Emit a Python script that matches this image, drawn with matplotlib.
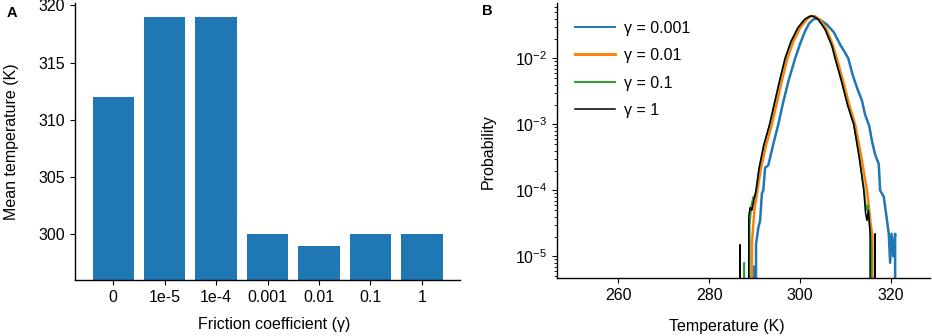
import matplotlib
matplotlib.use('Agg')
import matplotlib.pyplot as plt
import numpy as np

plt.rcParams.update({
    'font.family': ['Liberation Sans', 'DejaVu Sans'],
    'font.size': 11.5,
    'mathtext.fontset': 'custom',
    'mathtext.rm': 'Liberation Sans',
    'mathtext.it': 'Liberation Sans:italic',
    'mathtext.bf': 'Liberation Sans:bold',
    'axes.linewidth': 1.0,
})

# Panel A: mean temperature per friction coefficient
frictions = ['0', '1e-5', '1e-4', '0.001', '0.01', '0.1', '1']
mean_temp = [312, 319, 319, 300, 299, 300, 300]

# Panel B: temperature distributions
t_g0001 = [289.3, 289.5, 289.8, 290.0, 290.3, 290.8, 291.2, 291.6, 291.9, 292.3, 293.0,
           294.0, 295.2, 296.3, 297.5, 298.9, 300.0, 301.0, 302.0, 302.8, 303.3, 303.9,
           304.5, 305.9, 307.4, 308.8, 309.8, 310.6, 311.5, 312.5, 313.6, 314.3, 315.2,
           315.8, 316.5, 317.3, 317.6, 318.4, 318.9, 319.5, 319.8, 320.1, 320.5, 320.9, 321.1]
p_g0001 = [0, 7e-6, 7e-6, 0, 1.5e-5, 2.7e-5, 3.5e-5, 9e-5, 1.0e-4, 2.2e-4, 2.4e-4,
           4.7e-4, 1.0e-3, 2.2e-3, 4.7e-3, 1.0e-2, 1.66e-2, 2.5e-2, 3.4e-2, 3.85e-2, 4.0e-2, 3.95e-2,
           3.8e-2, 3.25e-2, 2.5e-2, 1.62e-2, 1.25e-2, 1.0e-2, 5.8e-3, 3.6e-3, 2.3e-3, 1.4e-3, 9.5e-4,
           5.6e-4, 3.5e-4, 2.5e-4, 1.0e-4, 8e-5, 4.5e-5, 2.2e-5, 8e-6, 2.2e-5, 1.0e-5, 2.2e-5, 0]

t_g001 = [289.2, 289.4, 289.7, 290.0, 290.6, 291.4, 292.5, 293.8, 295.0, 296.0, 297.2,
          298.5, 300.0, 301.5, 302.3, 302.8, 303.3, 304.3, 305.8, 307.2, 308.0, 309.3,
          310.8, 312.1, 313.4, 314.7, 315.2, 315.5, 315.9, 316.1]
p_g001 = [0, 1.5e-5, 3e-5, 5.5e-5, 1.0e-4, 2.2e-4, 4.8e-4, 1.0e-3, 2.3e-3, 4.6e-3, 1.0e-2,
          1.8e-2, 2.9e-2, 3.9e-2, 4.3e-2, 4.4e-2, 4.35e-2, 3.9e-2, 2.8e-2, 1.6e-2, 1.05e-2, 5.0e-3,
          2.0e-3, 1.0e-3, 3.4e-4, 1.0e-4, 5e-5, 3.2e-5, 2e-5, 0]

t_g01 = [287.5, 287.7, 287.9, 288.7, 288.9, 289.3, 289.7, 290.1, 290.4, 291.0, 292.0,
         293.3, 294.5, 295.5, 296.7, 298.0, 299.5, 301.0, 302.0, 302.5, 303.0, 304.0,
         305.5, 307.0, 307.7, 309.0, 310.5, 311.8, 313.0, 314.1, 314.5, 314.9, 315.3, 315.7, 315.9]
p_g01 = [0, 8e-6, 0, 0, 3e-5, 6e-5, 8e-5, 8e-5, 1.1e-4, 2.2e-4, 4.8e-4,
         1.0e-3, 2.3e-3, 4.6e-3, 1.0e-2, 1.8e-2, 2.9e-2, 3.9e-2, 4.3e-2, 4.4e-2, 4.3e-2, 3.9e-2,
         2.75e-2, 1.55e-2, 1.0e-2, 4.8e-3, 1.9e-3, 1.0e-3, 3.2e-4, 1.0e-4, 5e-5, 6e-5, 3e-5, 1.5e-5, 0]

t_g1 = [286.6, 286.8, 287.0, 288.5, 288.7, 289.0, 289.4, 289.8, 290.3, 291.0, 292.0,
        293.3, 294.5, 295.5, 296.7, 298.0, 299.5, 301.0, 302.0, 302.5, 303.0, 304.0,
        305.5, 307.0, 307.7, 309.0, 310.5, 311.8, 313.0, 314.0, 314.4, 314.7, 315.0,
        315.4, 315.7, 316.3, 316.5, 316.8]
p_g1 = [0, 1.5e-5, 0, 0, 4e-5, 5.5e-5, 5e-5, 7e-5, 1.0e-4, 2.2e-4, 4.8e-4,
        1.0e-3, 2.3e-3, 4.6e-3, 1.0e-2, 1.8e-2, 2.9e-2, 3.9e-2, 4.3e-2, 4.4e-2, 4.3e-2, 3.9e-2,
        2.75e-2, 1.55e-2, 1.0e-2, 4.8e-3, 1.9e-3, 1.0e-3, 3.2e-4, 1.0e-4, 4.5e-5, 3.5e-5, 5e-5,
        2.2e-5, 0, 0, 2.2e-5, 0]

fig = plt.figure(figsize=(9.32, 3.36), dpi=100)

# ---------------- Panel A ----------------
axA = fig.add_axes([0.0805, 0.1667, 0.4131, 0.8243])
x = np.arange(len(frictions))
axA.bar(x, mean_temp, width=0.8, color='#1f77b4')
axA.set_xticks(x)
axA.set_xticklabels(frictions)
axA.set_ylim(296, 320.2)
axA.set_yticks([300, 305, 310, 315, 320])
axA.set_xlabel('Friction coefficient (γ)', labelpad=9)
axA.xaxis.label.set_x(0.517)
axA.set_ylabel('Mean temperature (K)', labelpad=14)
axA.spines['top'].set_visible(False)
axA.spines['right'].set_visible(False)
fig.text(0.013, 0.961, 'A', fontsize=10.5, fontweight='bold', ha='center', va='center')

# ---------------- Panel B ----------------
axB = fig.add_axes([0.598, 0.1726, 0.400, 0.8184])
axB.plot(t_g0001, p_g0001, color='#1f77b4', lw=1.8, label='γ = 0.001')
axB.plot(t_g001, p_g001, color='#ff7f0e', lw=1.8, label='γ = 0.01')
axB.plot(t_g01, p_g01, color='#2ca02c', lw=1.3, label='γ = 0.1')
axB.plot(t_g1, p_g1, color='black', lw=1.1, label='γ = 1')
axB.set_yscale('log')
axB.set_xlim(246.6, 328.6)
axB.set_ylim(4.7e-6, 0.069)
axB.set_xticks([260, 280, 300, 320])
axB.set_yticks([1e-5, 1e-4, 1e-3, 1e-2])
axB.set_yticklabels([r'$\mathregular{10^{-5}}$', r'$\mathregular{10^{-4}}$',
                     r'$\mathregular{10^{-3}}$', r'$\mathregular{10^{-2}}$'])
axB.set_xlabel('Temperature (K)', labelpad=12)
axB.xaxis.label.set_x(0.454)
axB.set_ylabel('Probability', labelpad=14)
axB.yaxis.label.set_y(0.459)
axB.spines['top'].set_visible(False)
axB.spines['right'].set_visible(False)
leg = axB.legend(loc='upper left', bbox_to_anchor=(0.0, 1.0), frameon=False,
                 handlelength=2.5, handletextpad=0.6, labelspacing=0.78,
                 borderaxespad=0.7)
for line, lw in zip(leg.get_lines(), [1.4, 2.1, 1.4, 1.1]):
    line.set_linewidth(lw)
fig.text(0.5225, 0.967, 'B', fontsize=10.5, fontweight='bold', ha='center', va='center')

fig.savefig('out.png', dpi=100)
